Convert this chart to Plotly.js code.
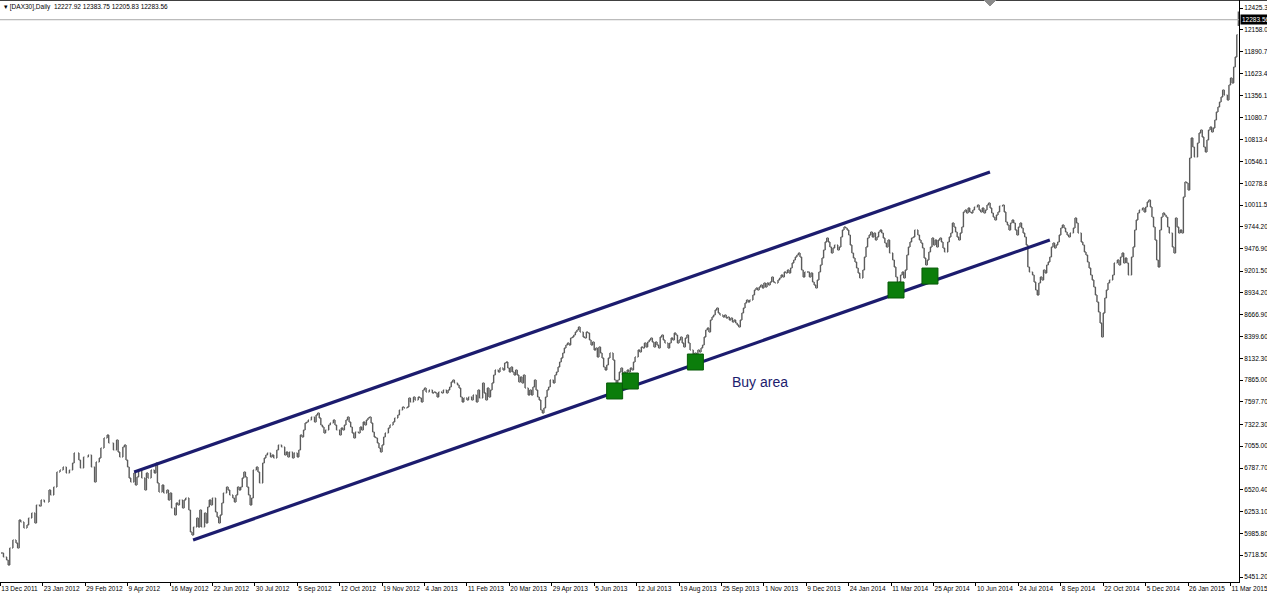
<!DOCTYPE html>
<html>
<head>
<meta charset="utf-8">
<script src="https://cdn.plot.ly/plotly-3.0.1.min.js"></script>
<style>
html,body{margin:0;padding:0;background:#fff;}
#chart{width:1267px;height:594px;}
</style>
</head>
<body>
<div id="chart"></div>
<script>
// ---- data ----
const symbolName = "[DAX30],Daily";
const lastOpen = 12227.92, lastHigh = 12383.75, lastLow = 12205.83, lastClose = 12283.56;

const sessions = [
1,2,4,5,6,8,10,11,12,13,15,17,18,20,22,23,25,26,28,31,32,34,36,38,40,42,44,46,47,50,51,53,56,58,60,61,63,64,66,68,
69,72,74,75,76,78,79,80,81,82,83,85,86,87,88,90,92,93,94,96,98,99,100,101,103,104,106,107,108,109,111,112,113,114,116,117,118,120,121,122,123,125,126,127,128,130,131,132,
133,134,135,137,138,139,140,141,142,144,145,146,148,149,150,151,152,153,154,155,156,157,158,159,160,161,163,164,165,167,168,169,170,172,173,174,176,177,179,181,182,183,184,186,187,189,190,191,192,193,194,195,
196,198,200,201,202,203,204,205,206,207,209,210,212,213,214,216,217,218,219,220,221,222,223,224,225,226,228,229,230,231,232,233,234,235,236,237,238,239,240,241,242,243,244,245,247,248,250,251,253,254,256,257,259,
260,261,263,264,266,267,268,269,270,271,273,275,276,277,278,279,281,282,284,285,286,287,288,289,291,292,293,294,295,297,298,300,301,303,304,305,307,308,309,310,311,312,313,314,315,317,318,320,321,322,
323,324,325,326,327,328,329,330,331,332,333,334,336,337,338,339,340,341,342,343,344,345,346,347,348,349,350,352,353,354,355,356,357,358,359,360,361,362,363,364,365,366,367,368,369,371,372,373,374,375,376,377,378,379,380,381,382,383,384,385,
386,387,388,390,391,392,393,394,395,396,397,398,399,400,401,402,403,404,406,407,408,409,410,411,412,413,414,415,416,417,418,419,420,421,422,423,425,426,427,428,429,430,431,432,433,434,435,436,437,438,439,441,442,443,444,445,446,447,448,449,
450,451,452,453,454,455,456,457,458,460,461,462,463,464,465,466,467,468,469,470,471,472,473,474,475,476,477,479,480,481,482,483,484,485,486,487,488,489,490,491,492,493,495,496,497,498,499,500,501,502,503,504,505,506,507,508,509,510,511,512,
514,515,516,517,518,519,520,521,522,523,524,525,526,527,528,529,530,531,533,534,535,536,537,538,539,540,541,542,543,544,545,546,547,549,550,551,552,553,554,555,556,557,558,559,560,561,562,563,564,565,566,568,569,570,571,572,573,574,575,576,
577,578,579,580,581,582,584,585,586,587,588,589,590,591,592,593,594,595,596,597,598,599,600,601,603,604,605,606,607,608,609,610,611,612,613,614,615,616,617,618,619,620,622,623,624,625,626,627,628,629,630,631,632,633,634,635,636,638,639,640,
641,642,643,644,645,646,647,648,649,650,651,652,653,654,655,657,658,659,660,661,662,663,664,665,666,667,668,669,670,671,672,673,674,675,676,677,678,679,680,681,683,684,685,686,688,689,690,691,692,693,694,695,696,697,698,699,700,701,702,703,704,705,706,
708,709,711,712,713,714,715,716,717,718,720,721,722,723,724,725,727,728,729,730,731,732,733,734,735,736,737,738,739,740,741,742,743,744,746,747,748,749,750,751,752,753,754,755,756,757,758,759,760,762,763,764,765,766,767,768,769,770,771,772,773,774,775,776,777,778,779,781,782,783,784,785,786,787,788
];

const closes = [
5745,5696,5660,5598,5807,5905,5868,5807,6150,6125,6052,6089,6174,6236,6113,6334,6320,6395,6371,6518,6456,6555,6739,6763,6800,6726,6763,6849,6971,6886,6788,6922,6947,6800,6616,6861,6910,7033,7155,7192,
7094,7008,7131,6984,6922,7045,7070,6886,6800,6665,6616,6726,6579,6677,6763,6665,6518,6726,6665,6763,6726,6849,6604,6493,6579,6481,6518,6395,6481,6297,6211,6358,6334,6395,6297,6395,6420,6273,6003,5966,6064,6174,6064,6273,6064,6236,6113,6310,
6395,6334,6420,6248,6187,6113,6211,6358,6481,6555,6518,6456,6420,6371,6456,6555,6518,6555,6665,6739,6677,6555,6456,6334,6420,6763,6800,6739,6604,6849,6910,6947,6971,6922,6947,6910,7008,7070,7045,6947,6984,6922,6984,6910,6971,6922,7008,7192,7168,7253,7340,7352,
7376,7413,7352,7437,7462,7401,7315,7290,7217,7253,7315,7340,7376,7315,7253,7192,7278,7253,7315,7376,7413,7352,7290,7217,7155,7229,7217,7290,7253,7352,7315,7376,7401,7413,7340,7229,7168,7155,7094,7033,6984,7070,7168,7217,7278,7315,7352,7401,7437,7499,7535,7523,7535,
7646,7597,7658,7621,7658,7646,7597,7744,7768,7719,7744,7707,7719,7707,7658,7719,7707,7744,7707,7744,7780,7842,7866,7829,7805,7768,7658,7597,7646,7621,7658,7621,7683,7597,7744,7646,7829,7707,7621,7768,7658,7744,7829,7928,7989,7964,8013,7989,8075,8087,
8013,7964,8026,7964,7928,7989,7928,7842,7903,7829,7928,7768,7683,7744,7683,7780,7866,7744,7658,7621,7499,7462,7523,7658,7744,7780,7866,7829,7928,7964,8026,8087,8136,8197,8259,8295,8320,8295,8381,8393,8418,8455,8479,8516,8455,8393,8381,8455,8442,8357,8295,8332,8234,8259,8148,8271,8197,8136,8026,7989,
8050,8136,8197,8112,7866,7780,7866,7964,8013,7928,7964,7903,7989,7964,8013,7989,8087,8148,8234,8210,8271,8259,8320,8271,8332,8357,8381,8332,8271,8332,8295,8259,8393,8418,8357,8320,8259,8320,8381,8357,8442,8418,8320,8357,8393,8320,8271,8381,8418,8320,8234,8148,8197,8173,8234,8210,8259,8295,8393,8479,
8504,8455,8602,8639,8663,8724,8749,8688,8663,8639,8663,8626,8639,8602,8626,8577,8602,8565,8540,8516,8602,8688,8749,8810,8847,8823,8847,8908,8970,8994,8970,9006,9031,8994,9055,9006,9055,9031,9068,9129,9068,9055,9092,9117,9153,9129,9190,9178,9215,9178,9239,9301,9338,9374,9399,9423,9374,9215,9129,9190,
9190,9129,9178,9068,9031,8994,9092,9190,9276,9362,9460,9558,9607,9558,9497,9423,9485,9521,9460,9497,9619,9705,9742,9730,9705,9644,9521,9423,9362,9313,9239,9178,9117,9215,9374,9497,9607,9644,9681,9619,9668,9583,9619,9681,9705,9668,9607,9546,9497,9583,9423,9338,9252,9129,9006,9068,9153,9190,9117,9215,
9399,9497,9558,9607,9619,9705,9644,9583,9546,9485,9362,9276,9338,9436,9497,9607,9521,9583,9497,9583,9607,9558,9485,9436,9558,9619,9668,9791,9742,9681,9619,9583,9668,9742,9926,9950,9914,9975,9926,9914,9950,9987,10012,9950,9926,9975,9914,9950,10012,10036,9975,9914,9864,9828,9889,9926,10000,10012,9926,9803,
9767,9705,9791,9828,9791,9705,9644,9742,9791,9730,9668,9619,9521,9252,9190,9153,9068,8970,8908,9055,9129,9092,9215,9178,9276,9313,9374,9497,9546,9485,9521,9558,9644,9730,9767,9730,9681,9644,9619,9668,9730,9852,9791,9668,9558,9521,9436,9399,9313,9239,9153,9092,9006,8908,8823,8700,8565,8393,8688,8872,8970,9055,9092,
9153,9301,9338,9276,9374,9423,9301,9362,9301,9153,9374,9497,9705,9828,9914,9950,9975,9926,9987,10048,10073,9987,9864,9742,9583,9338,9252,9705,9864,9914,9889,9864,9742,9668,9497,9423,9852,9742,9668,9705,9668,10110,10294,10282,10196,10588,10833,10723,10600,10772,10895,10931,10846,10723,10662,10809,10931,10968,10907,10956,11054,11152,11213,11275,11336,11422,11360,11299,11483,11569,11508,11704,11826,12100,12283.56
];

const labelSessions = [0,27,54,81,108,135,162,189,216,243,270,297,324,351,378,405,432,459,486,513,540,567,594,621,648,675,702,729,756,783];
const dateLabels = ["13 Dec 2011","23 Jan 2012","29 Feb 2012","9 Apr 2012","16 May 2012","22 Jun 2012","30 Jul 2012","5 Sep 2012","12 Oct 2012","19 Nov 2012","4 Jan 2013","11 Feb 2013","20 Mar 2013","29 Apr 2013","5 Jun 2013","12 Jul 2013","19 Aug 2013","25 Sep 2013","1 Nov 2013","9 Dec 2013","24 Jan 2014","11 Mar 2014","25 Apr 2014","10 Jun 2014","24 Jul 2014","8 Sep 2014","22 Oct 2014","5 Dec 2014","26 Jan 2015","11 Mar 2015"];

const priceTicks = [12425.30,12158.00,11890.70,11623.40,11356.10,11080.70,10813.40,10546.10,10278.80,10011.50,9744.20,9476.90,9201.50,8934.20,8666.90,8399.60,8132.30,7865.00,7597.70,7322.30,7055.00,6787.70,6520.40,6253.10,5985.80,5718.50,5451.20];

const upperChannelSessions = [85.2, 629.9];
const upperChannelPrices = [6739, 10416];
const lowerChannelSessions = [122.7, 668.0];
const lowerChannelPrices = [5905, 9583];

const buySessions = [391, 401, 442.4, 570.1, 591.7];
const buyPrices = [7732, 7854, 8087, 8970, 9141];
const buyLabel = "Buy area";
const buyLabelSession = 483.7, buyLabelPrice = 7842;

// ---- derived OHLC (open = previous close) ----
const opens = closes.map((c, i) => i === 0 ? c : closes[i - 1]);
opens[opens.length - 1] = lastOpen;
const highs = closes.map((c, i) => Math.max(c, opens[i]));
const lows = closes.map((c, i) => Math.min(c, opens[i]));
highs[highs.length - 1] = lastHigh;
lows[lows.length - 1] = lastLow;

const fmt = v => v.toFixed(2);
const NAVY = '#1c1c6e';
const FONT = 'Liberation Sans, Arial, sans-serif';

const traces = [
  {
    type: 'ohlc', x: sessions, open: opens, high: highs, low: lows, close: closes,
    increasing: {line: {color: '#5c5c5c', width: 1.4}},
    decreasing: {line: {color: '#5c5c5c', width: 1.4}},
    tickwidth: 0.5, hoverinfo: 'skip', showlegend: false
  },
  {
    type: 'scatter', mode: 'lines', x: upperChannelSessions, y: upperChannelPrices,
    line: {color: NAVY, width: 3.2}, hoverinfo: 'skip', showlegend: false
  },
  {
    type: 'scatter', mode: 'lines', x: lowerChannelSessions, y: lowerChannelPrices,
    line: {color: NAVY, width: 3.2}, hoverinfo: 'skip', showlegend: false
  },
  {
    type: 'scatter', mode: 'markers', x: buySessions, y: buyPrices,
    marker: {symbol: 'square', size: 16, color: '#0b7d0b', line: {color: '#075a07', width: 1}},
    hoverinfo: 'skip', showlegend: false
  }
];

const layout = {
  width: 1267, height: 594,
  margin: {l: 0, r: 28, t: 0, b: 12, pad: 0},
  paper_bgcolor: '#ffffff', plot_bgcolor: '#ffffff',
  font: {family: FONT, size: 7, color: '#000'},
  showlegend: false,
  xaxis: {
    type: 'linear', range: [-0.2, 788.4],
    rangeslider: {visible: false},
    tickmode: 'array', tickvals: labelSessions, ticktext: dateLabels,
    tickangle: 0,
    ticks: 'outside', ticklen: 3, tickcolor: '#000', tickwidth: 1,
    ticklabelposition: 'outside right', ticklabeloverflow: 'allow',
    tickfont: {family: FONT, size: 6.5, color: '#000'},
    showline: true, linecolor: '#000', linewidth: 1,
    showgrid: false, zeroline: false, fixedrange: true
  },
  yaxis: {
    side: 'right', range: [5390, 12525.4],
    tickmode: 'array', tickvals: priceTicks, ticktext: priceTicks.map(fmt),
    ticks: 'outside', ticklen: 3, tickcolor: '#000', tickwidth: 1,
    tickfont: {family: FONT, size: 6.5, color: '#000'},
    showline: true, linecolor: '#000', linewidth: 1,
    showgrid: false, zeroline: false, fixedrange: true
  },
  shapes: [
    {type: 'line', xref: 'paper', yref: 'y', x0: 0, x1: 1, y0: lastClose, y1: lastClose,
     line: {color: '#a8a8a8', width: 1}},
    {type: 'line', xref: 'paper', yref: 'paper', x0: 0, x1: 1.03, y0: 1, y1: 1,
     line: {color: '#000', width: 1.5}},
    {type: 'path', xref: 'paper', yref: 'paper', path: 'M 0.7942 1 L 0.8039 1 L 0.799 0.9897 Z',
     fillcolor: '#8a8a8a', line: {color: '#8a8a8a', width: 1}}
  ],
  annotations: [
    {xref: 'paper', yref: 'paper', x: 0, y: 1, xanchor: 'left', yanchor: 'top', xshift: 2, yshift: -1,
     showarrow: false, align: 'left',
     text: '\u25BE ' + symbolName + '  ' + [lastOpen, lastHigh, lastLow, lastClose].map(fmt).join(' '),
     font: {family: FONT, size: 6.5, color: '#000'}},
    {xref: 'paper', yref: 'y', x: 1, y: lastClose, xanchor: 'left', yanchor: 'middle', xshift: 1,
     showarrow: false, text: fmt(lastClose), bgcolor: '#000', borderpad: 1,
     font: {family: FONT, size: 6.5, color: '#fff'}},
    {xref: 'x', yref: 'y', x: buyLabelSession, y: buyLabelPrice, showarrow: false,
     text: buyLabel, font: {family: FONT, size: 14, color: NAVY}}
  ]
};

Plotly.newPlot('chart', traces, layout, {staticPlot: true, displayModeBar: false});
</script>
</body>
</html>
